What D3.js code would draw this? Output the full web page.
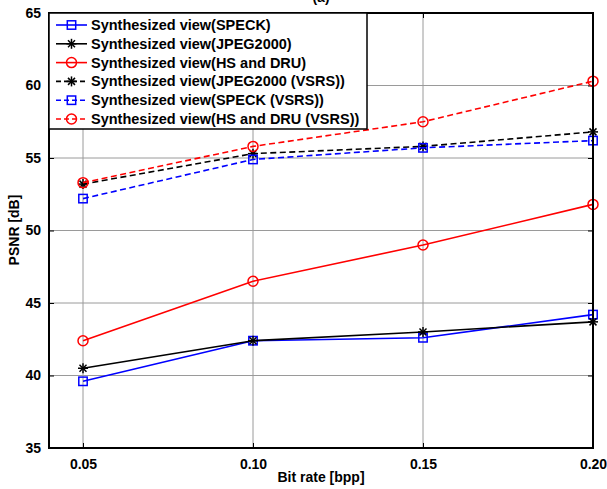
<!DOCTYPE html>
<html><head><meta charset="utf-8">
<script src="https://cdn.jsdelivr.net/npm/d3@7"></script>
<style>
body{margin:0;background:#fff;}
text{font-family:"Liberation Sans",Arial,sans-serif;font-weight:bold;}
</style></head>
<body><svg id="c" width="607" height="489"></svg>
<script>
const bitRates = [0.05, 0.10, 0.15, 0.20];
const xTicks = [0.05, 0.10, 0.15, 0.20];
const xTickLabels = ["0.05", "0.10", "0.15", "0.20"];
const yTicks = [35, 40, 45, 50, 55, 60, 65];
const seriesNames = [
  "Synthesized view(SPECK)",
  "Synthesized view(JPEG2000)",
  "Synthesized view(HS and DRU)",
  "Synthesized view(JPEG2000 (VSRS))",
  "Synthesized view(SPECK (VSRS))",
  "Synthesized view(HS and DRU (VSRS))"
];
const speck = [39.6, 42.4, 42.6, 44.2];
const jpeg2000 = [40.5, 42.4, 43.0, 43.7];
const hsDru = [42.4, 46.5, 49.0, 51.8];
const jpeg2000Vsrs = [53.2, 55.3, 55.8, 56.8];
const speckVsrs = [52.2, 54.9, 55.7, 56.2];
const hsDruVsrs = [53.3, 55.8, 57.5, 60.3];
const seriesColors = ["#0000ff", "#000000", "#ff0000", "#000000", "#0000ff", "#ff0000"];
const seriesMarkers = ["square", "star", "circle", "star", "square", "circle"];
const seriesDashed = [false, false, false, true, true, true];
const seriesValues = [speck, jpeg2000, hsDru, jpeg2000Vsrs, speckVsrs, hsDruVsrs];

const svg = d3.select("#c");
const L = 49, R = 593, T = 13, B = 448;
const x = d3.scaleLinear().domain([0.04, 0.20]).range([L, R]);
const y = d3.scaleLinear().domain([35, 65]).range([B, T]);

// partial title
svg.append("text").attr("x", 321).attr("y", 2).attr("text-anchor", "middle")
  .attr("font-size", 14).attr("font-weight", "normal").text("(a)");

// grid
const g = svg.append("g");
g.selectAll(".gx").data(xTicks).enter().append("line")
  .attr("x1", d => x(d)).attr("x2", d => x(d)).attr("y1", T).attr("y2", B)
  .attr("stroke", "#9a9a9a").attr("stroke-width", 1);
g.selectAll(".gy").data(yTicks).enter().append("line")
  .attr("x1", L).attr("x2", R).attr("y1", d => y(d)).attr("y2", d => y(d))
  .attr("stroke", "#9a9a9a").attr("stroke-width", 1);

// axes via d3 axes
const axB = d3.axisBottom(x).tickValues(xTicks).tickFormat((d, i) => xTickLabels[i]).tickSizeInner(-5).tickSizeOuter(0).tickPadding(11);
const axL = d3.axisLeft(y).tickValues(yTicks).tickSizeInner(-5).tickSizeOuter(0).tickPadding(8);
const axT = d3.axisTop(x).tickValues(xTicks).tickFormat("").tickSizeInner(-5).tickSizeOuter(0);
const axR = d3.axisRight(y).tickValues(yTicks).tickFormat("").tickSizeInner(-5).tickSizeOuter(0);
function styleAx(sel){
  sel.select(".domain").remove();
  sel.selectAll(".tick line").attr("stroke", "#000").attr("stroke-width", 1);
  sel.selectAll("text").attr("font-size", 14).attr("fill", "#000")
    .attr("font-family", "Liberation Sans, Arial, sans-serif").attr("font-weight", "bold");
}
svg.append("g").attr("transform", `translate(0,${B})`).call(axB).call(styleAx);
svg.append("g").attr("transform", `translate(${L},0)`).call(axL).call(styleAx);
svg.append("g").attr("transform", `translate(0,${T})`).call(axT).call(styleAx);
svg.append("g").attr("transform", `translate(${R},0)`).call(axR).call(styleAx);

// lines
const line = d3.line().x((d, i) => x(bitRates[i])).y(d => y(d));
function drawMarker(sel, type, color){
  if (type === "square") {
    sel.append("rect").attr("x", -4.2).attr("y", -4.2).attr("width", 8.4).attr("height", 8.4)
      .attr("fill", "none").attr("stroke", color).attr("stroke-width", 1.5);
  } else if (type === "circle") {
    sel.append("circle").attr("r", 5).attr("fill", "none").attr("stroke", color).attr("stroke-width", 1.5);
  } else {
    const r = 5;
    const p = [[-r,0,r,0],[0,-r,0,r],[-r*0.7,-r*0.7,r*0.7,r*0.7],[-r*0.7,r*0.7,r*0.7,-r*0.7]];
    p.forEach(q => sel.append("line").attr("x1", q[0]).attr("y1", q[1]).attr("x2", q[2]).attr("y2", q[3])
      .attr("stroke", color).attr("stroke-width", 1.5));
  }
}
const plot = svg.append("g");
seriesValues.forEach((vals, s) => {
  plot.append("path").attr("d", line(vals)).attr("fill", "none")
    .attr("stroke", seriesColors[s]).attr("stroke-width", 1.6)
    .attr("stroke-dasharray", seriesDashed[s] ? "6,3.5" : null);
  vals.forEach((v, i) => {
    const m = plot.append("g").attr("transform", `translate(${x(bitRates[i])},${y(v)})`);
    drawMarker(m, seriesMarkers[s], seriesColors[s]);
  });
});

// frame
svg.append("rect").attr("x", L).attr("y", T).attr("width", R - L).attr("height", B - T)
  .attr("fill", "none").attr("stroke", "#000").attr("stroke-width", 2);

// legend
const lg = svg.append("g");
lg.append("rect").attr("x", L).attr("y", T).attr("width", 318).attr("height", 116)
  .attr("fill", "#fff").attr("stroke", "#000").attr("stroke-width", 1.5);
seriesNames.forEach((name, s) => {
  const ly = 25 + s * 18.8;
  lg.append("line").attr("x1", 56).attr("x2", 87).attr("y1", ly).attr("y2", ly)
    .attr("stroke", seriesColors[s]).attr("stroke-width", 1.6)
    .attr("stroke-dasharray", seriesDashed[s] ? "5,3" : null);
  const m = lg.append("g").attr("transform", `translate(71.5,${ly})`);
  drawMarker(m, seriesMarkers[s], seriesColors[s]);
  lg.append("text").attr("x", 91).attr("y", ly + 5).attr("font-size", 14.5).attr("fill", "#000").text(name);
});

// axis titles
svg.append("text").attr("x", 321).attr("y", 482).attr("text-anchor", "middle")
  .attr("font-size", 14).text("Bit rate [bpp]");
svg.append("text").attr("transform", "translate(19,230) rotate(-90)").attr("text-anchor", "middle")
  .attr("font-size", 14).text("PSNR [dB]");
</script></body></html>
